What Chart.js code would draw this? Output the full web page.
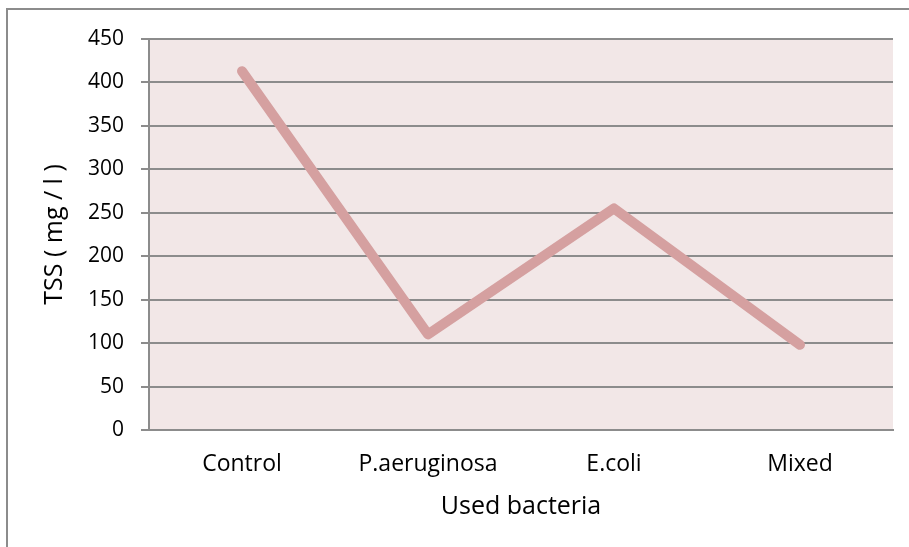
<!DOCTYPE html>
<html>
<head>
<meta charset="utf-8">
<script src="https://cdn.jsdelivr.net/npm/chart.js@4"></script>
<style>
  html, body { margin: 0; padding: 0; background: #fff; }
  #frame {
    position: absolute; left: 6px; top: 8px; width: 903px; height: 539px;
    border-top: 2px solid #8c8c8c; border-left: 2px solid #8c8c8c;
  }
  #wrap { position: absolute; left: 0; top: 0; width: 909px; height: 547px; }
</style>
</head>
<body>
<div id="frame"></div>
<div id="wrap"><canvas id="chart" width="909" height="547"></canvas></div>
<script>
const categories = ["Control", "P.aeruginosa", "E.coli", "Mixed"];
const tssValues = [413, 110, 255, 98];
const yTicks = [0, 50, 100, 150, 200, 250, 300, 350, 400, 450];

const fontFamily = "'Open Sans', sans-serif";
const gridColor = "#8c8c8c";

// fills the plot area before the grid is drawn
const plotBackground = {
  id: "plotBackground",
  beforeDraw(chart) {
    const { ctx, chartArea } = chart;
    ctx.save();
    ctx.fillStyle = "#f2e7e7";
    ctx.fillRect(chartArea.left, chartArea.top,
      chartArea.right - chartArea.left, chartArea.bottom - chartArea.top);
    ctx.restore();
  },
};

new Chart(document.getElementById("chart"), {
  type: "line",
  data: {
    labels: categories,
    datasets: [
      {
        data: tssValues,
        borderColor: "#d5a0a0",
        borderWidth: 10,
        borderCapStyle: "round",
        borderJoinStyle: "round",
        pointRadius: 0,
        tension: 0,
      },
    ],
  },
  options: {
    responsive: false,
    animation: false,
    layout: { padding: { top: 39, right: 16, left: 0, bottom: 0 } },
    plugins: {
      legend: { display: false },
      tooltip: { enabled: false },
    },
    scales: {
      x: {
        offset: true,
        grid: { display: false, drawTicks: false },
        border: { color: gridColor, width: 2 },
        ticks: {
          color: "#000",
          font: { family: fontFamily, size: 23 },
          padding: 21,
        },
        title: {
          display: true,
          text: "Used bacteria",
          color: "#000",
          font: { family: fontFamily, size: 25 },
          padding: { top: 25, bottom: 25 },
        },
        afterFit: (scale) => { scale.height = 117; },
      },
      y: {
        min: 0,
        max: 450,
        afterBuildTicks: (scale) => {
          scale.ticks = yTicks.map((v) => ({ value: v }));
        },
        grid: { color: gridColor, lineWidth: 2, tickLength: 8 },
        border: { color: gridColor, width: 2 },
        ticks: {
          color: "#000",
          font: { family: fontFamily, size: 21 },
          padding: 17,
        },
        title: {
          display: true,
          text: "TSS ( mg / l )",
          color: "#000",
          font: { family: fontFamily, size: 25 },
          padding: { top: 40, bottom: 40 },
        },
        afterFit: (scale) => { scale.width = 149; },
      },
    },
  },
  plugins: [plotBackground],
});
</script>
</body>
</html>
